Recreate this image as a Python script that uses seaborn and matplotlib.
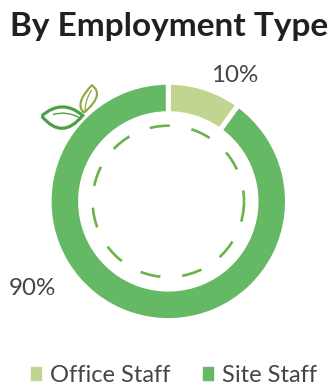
import matplotlib
matplotlib.use("Agg")
import matplotlib.pyplot as plt
from matplotlib.patches import Arc, PathPatch
from matplotlib.path import Path
import seaborn as sns

categories = ["Office Staff", "Site Staff"]
shares = [10, 90]
share_labels = ["10%", "90%"]
colors = ["#C2D590", "#65B864"]
title = "By Employment Type"

sns.set_theme(style="white")
plt.rcParams["font.family"] = ["Lato", "DejaVu Sans"]

H = 389
fig = plt.figure(figsize=(3.31, 3.89), dpi=100)
ax = fig.add_axes([0, 0, 1, 1])

cx, cy = 168.3, H - 201.4
gap = 3.6  # white separator, in points; half of it trims each ring edge

wedges, _ = ax.pie(
    shares, colors=colors, startangle=90, counterclock=False,
    center=(cx, cy), radius=119.2, frame=True,
    wedgeprops=dict(width=31.5, edgecolor="white", linewidth=gap),
)
ax.set_xlim(0, 331)
ax.set_ylim(0, H)
ax.set_aspect("equal")
ax.axis("off")

# Dashed inner ring, stroked from the east point round the circle
ax.add_patch(Arc((cx, cy), 151.4, 151.4, theta1=0, theta2=360,
                 edgecolor="#6BB345", linewidth=1.9,
                 linestyle=(3.5, (7.68, 8.32)), capstyle="butt"))

text_color = "#454547"
ax.text(169.5, H - 36, title, ha="center", va="baseline", fontsize=24,
        fontweight="bold", color="#231F20")
ax.text(235, H - 82, share_labels[0], ha="center", va="baseline", fontsize=17.4,
        color=text_color)
ax.text(32, H - 295, share_labels[1], ha="center", va="baseline", fontsize=17.4,
        color=text_color)


def leaf(tip_a, tip_b, ctrl1, ctrl2, color, lw):
    verts = [(x, H - y) for x, y in (tip_a, ctrl1, tip_b, ctrl2, tip_a)]
    codes = [Path.MOVETO, Path.CURVE3, Path.CURVE3, Path.CURVE3, Path.CURVE3]
    ax.add_patch(PathPatch(Path(verts, codes), fill=False, edgecolor=color, linewidth=lw))


def vein(p0, p1, p2, color, lw):
    verts = [(x, H - y) for x, y in (p0, p1, p2)]
    ax.add_patch(PathPatch(Path(verts, [Path.MOVETO, Path.CURVE3, Path.CURVE3]),
                           fill=False, edgecolor=color, linewidth=lw))


# Sprout on the ring's upper left
leaf((41.7, 116), (82.7, 115.5), (62, 98), (62, 141), "#4F9F48", 2.3)
vein((53, 114.5), (67, 110.5), (80, 118), "#4F9F48", 1.0)
leaf((84, 112.7), (91.7, 85.3), (74, 104), (105.4, 94.4), "#8FA63C", 1.5)
vein((85, 111.7), (85, 100), (91.7, 90), "#8FA63C", 0.9)

handles = [plt.Rectangle((0, 0), 1, 1, color=c) for c in colors]
leg = ax.legend(handles, categories, ncols=2, loc="center",
                bbox_to_anchor=(174 / 331, 1 - 375.5 / 389),
                frameon=False, fontsize=17, handlelength=0.43, handleheight=0.43,
                handletextpad=0.38, columnspacing=1.4, labelcolor=text_color)

fig.savefig("out.png", dpi=100)
